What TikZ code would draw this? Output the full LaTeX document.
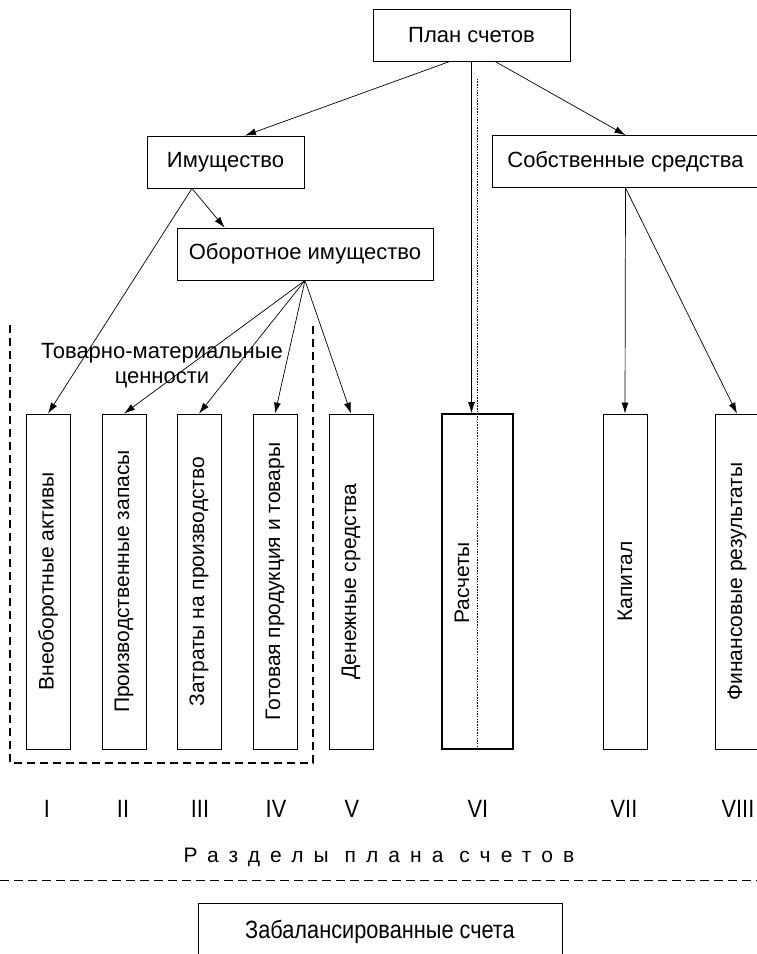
\documentclass[tikz,border=0pt]{standalone}
\usepackage{fontspec}
\setmainfont{Liberation Sans}
\newfontfamily\condfont[FakeStretch=0.87]{Liberation Sans}
\usetikzlibrary{arrows.meta}

\begin{document}
\begin{tikzpicture}[x=1pt,y=-1pt,
	box/.style={draw,line width=0.8pt,inner sep=0pt,minimum height=52pt,font=\fontsize{22}{26}\selectfont},
	col/.style={draw,line width=0.8pt,rotate=90,inner sep=0pt,minimum width=335pt,minimum height=44pt,font=\fontsize{21}{25}\selectfont},
	arr/.style={-{Latex[length=11pt,width=7pt]},line width=0.7pt},
	numeral/.style={font=\condfont\fontsize{25}{25}\selectfont}]
	\useasboundingbox (0,0) rectangle (757,954);
	% top levels
	\node[box,minimum width=197pt] (plan) at (471.5,35) {План счетов};
	\node[box,minimum width=157pt] (imu) at (225.5,162) {Имущество};
	\node[box,minimum width=256pt] (obor) at (305,254) {Оборотное имущество};
	\node[box,minimum width=267pt] (sob) at (625.5,161.5) {Собственные средства};
	% sections of the plan
	\node[col] (c1) at (48,581.5) {Внеоборотные активы};
	\node[col] (c2) at (124,581.5) {Производственные запасы};
	\node[col] (c3) at (199,581.5) {Затраты на производство};
	\node[col] (c4) at (275,581.5) {Готовая продукция и товары};
	\node[col] (c5) at (351,581.5) {Денежные средства};
	\node[col,minimum height=71pt,line width=1.6pt] (c6) at (477.5,581.5) {};
	\node[rotate=90,font=\fontsize{21}{25}\selectfont] (rasch) at (462,583) {Расчеты};
	\node[col] (c7) at (625,581.5) {Капитал};
	\node[col] (c8) at (737,581.5) {Финансовые результаты};
	\coordinate (dtop) at (478,78);
	\draw[dash pattern=on 1.5pt off 1.2pt,line width=0.6pt] (c6.west) -- (c6.west |- dtop);
	% arrows
	\draw[arr] ([xshift=-21.5pt]plan.south) -- ([xshift=19.5pt]imu.north);
	\draw[arr] ([xshift=23.5pt]plan.south) -- (sob.north);
	\draw[arr] (plan.south) -- (plan.south |- c6.east);
	\draw[arr] ([xshift=-33.5pt]imu.south) -- ([xshift=48pt]obor.north west);
	\draw[arr] ([xshift=-33.5pt]imu.south) -- (c1.east);
	\foreach \n in {c2,c3,c4,c5}
	\draw[arr] (obor.south) -- (\n.east);
	\draw[arr] (sob.south) -- (c7.east);
	\draw[arr] (sob.south) -- (c8.east);
	% inventory group
	\draw[dash pattern=on 8pt off 5pt,line width=1.8pt] (10,325) -- (10,763) -- (313,763) -- (313,325);
	\node[align=center,font=\fontsize{22}{25}\selectfont] (tmc) at (162,365.5) {Товарно-материальные\\ценности};
	% numerals
	\foreach \x/\r in {47/I,123/II,200/III,276/IV,352/V,478/VI,624/VII,738/VIII}
	\node[numeral] (r\r) at (\x,809) {\r};
	\node[font=\fontsize{21}{21}\selectfont] (razd) at (379,857) {\addfontfeature{LetterSpace=48}Разделы плана счетов};
	\draw[dash pattern=on 9pt off 5pt,line width=1pt] (0,880) -- (757,880);
	\node[box,minimum width=364pt,minimum height=58pt,anchor=north,font=\condfont\fontsize{25}{28}\selectfont] (zab) at (380,903) {Забалансированные счета};
\end{tikzpicture}
\end{document}
